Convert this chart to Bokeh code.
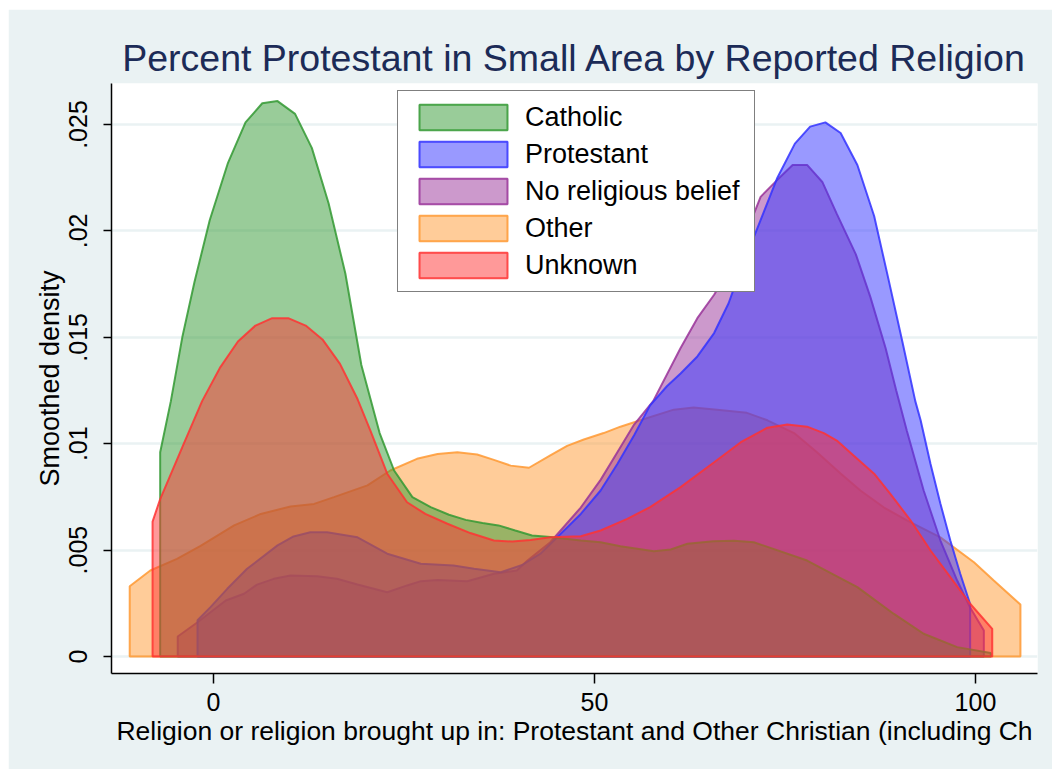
from bokeh.plotting import figure
from bokeh.models import (Legend, LegendItem, FixedTicker, CustomJSTickFormatter,
                          Spacer)
from bokeh.layouts import column, row
from bokeh.embed import file_html
from bokeh.resources import INLINE

# ---- kernel density curves (x = percent Protestant in small area) ----
catholic_x = [-7.0, -5.6, -4.1, -2.5, -0.5, 1.9, 4.2, 6.4, 8.4, 10.7, 12.9, 15.1, 17.3,
              19.4, 21.8, 23.7, 26.1, 28.5, 30.9, 33.1, 35.3, 37.4, 39.6, 41.8, 44.2,
              48.2, 50.8, 53.4, 57.8, 60.0, 62.2, 65.6, 68.3, 70.9, 77.9, 84.5, 89.3,
              93.2, 97.6, 102.0]
catholic_y = [.0096, .0120, .0150, .0176, .0205, .0232, .0251, .0260, .0261, .0255,
              .0239, .0213, .0180, .0137, .0105, .00874, .00749, .00702, .00666, .00642,
              .00627, .00616, .00592, .00569, .00562, .00545, .00537, .00518, .00495,
              .00503, .0053, .00542, .00544, .00537, .00451, .00326, .0020, .00107,
              .00044, .00016]

protestant_x = [-2.1, -0.4, 1.8, 4.4, 8.4, 10.5, 12.7, 14.9, 18.9, 22.8, 27.2, 31.5,
                34.2, 37.7, 40.5, 42.9, 45.1, 48.2, 50.8, 53.0, 55.2, 57.3, 59.5, 61.3,
                63.5, 65.7, 67.6, 68.7, 70.9, 74.0, 76.3, 78.3, 80.3, 82.3, 84.5, 86.7,
                88.6, 90.4, 92.1, 92.8, 94.1, 95.4, 96.7, 98.0, 99.3]
protestant_y = [.0017, .00232, .00318, .00412, .00522, .00564, .00584, .00584, .0056,
                .00483, .00436, .00428, .00412, .00396, .0043, .00483, .0056, .0067,
                .0078, .00905, .0104, .0118, .0127, .0133, .0141, .0152, .0166, .0177,
                .0197, .0225, .0241, .0249, .0251, .0246, .0231, .0207, .0177, .0148,
                .0120, .0111, .00905, .00718, .00545, .00389, .00247]

norel_x = [-4.7, -2.1, 1.6, 4.0, 5.7, 7.9, 10.1, 13.6, 16.2, 18.9, 22.8, 25.4, 27.2,
           29.4, 33.3, 36.8, 39.8, 41.2, 44.2, 48.2, 50.8, 53.0, 55.2, 57.7, 61.3, 63.5,
           65.7, 68.7, 71.8, 74.0, 76.0, 77.9, 79.9, 81.8, 84.3, 86.2, 88.2, 89.6, 91.0,
           93.2, 95.4, 97.6, 99.3, 101.1]
norel_y = [.00094, .00161, .00263, .00295, .00338, .00365, .00381, .00377, .00365,
           .00338, .00302, .00334, .00354, .0036, .00354, .00389, .00404, .00451, .00537,
           .0070, .0083, .0096, .0109, .0120, .0145, .0159, .0170, .0188, .0216, .0224,
           .0231, .0231, .0223, .0208, .0189, .0169, .0145, .0125, .0106, .0078, .00545,
           .00357, .0023, .00122]

other_x = [-11.0, -8.3, -4.8, -1.7, 2.7, 6.2, 10.1, 13.2, 15.8, 20.2, 23.2, 26.7, 29.4,
           32.0, 34.6, 36.8, 39.0, 41.4, 44.2, 46.4, 48.6, 51.2, 53.4, 56.0, 60.4, 63.0,
           66.1, 70.0, 72.7, 76.2, 79.2, 82.3, 84.9, 88.0, 91.0, 95.4, 99.8, 102.4, 105.9]
other_y = [.0033, .00404, .00459, .0052, .00616, .0067, .00705, .00717, .00749, .00804,
           .00874, .00929, .00952, .0096, .00949, .00924, .00897, .00887, .00945, .0099,
           .0102, .0105, .0108, .0111, .0116, .0117, .0116, .01145, .0111, .0105, .0096,
           .0086, .0078, .0070, .0064, .0056, .00443, .00357, .00244]

unknown_x = [-8.0, -7.0, -3.9, -1.5, 0.9, 3.2, 5.5, 7.7, 9.8, 12.1, 14.3, 16.6, 18.9,
             20.6, 22.8, 25.4, 27.8, 30.7, 33.7, 36.8, 39.2, 41.6, 44.2, 48.2, 50.8,
             54.3, 57.3, 61.3, 65.7, 69.2, 72.7, 75.3, 77.9, 80.1, 81.8, 84.0, 86.7,
             88.8, 91.5, 94.1, 96.7, 99.3, 102.2]
unknown_y = [.00634, .0074, .0100, .0120, .0136, .0148, .01555, .0159, .0159, .01555,
             .0149, .01375, .0121, .0106, .00859, .00725, .0067, .00624, .0058, .00545,
             .0054, .00548, .0056, .00565, .00592, .00647, .00702, .00796, .00913,
             .01007, .01075, .0109, .0108, .0105, .01015, .00945, .00859, .00765,
             .00639, .00498, .00373, .00248, .0013]

series = {
    "Catholic": (catholic_x, catholic_y, "#339933"),
    "Protestant": (protestant_x, protestant_y, "#3333ff"),
    "No religious belief": (norel_x, norel_y, "#993399"),
    "Other": (other_x, other_y, "#ff9933"),
    "Unknown": (unknown_x, unknown_y, "#ff3333"),
}
legend_order = ["Catholic", "Protestant", "No religious belief", "Other", "Unknown"]
draw_order = ["Other", "No religious belief", "Protestant", "Catholic", "Unknown"]

y_ticks = [0, 0.005, 0.01, 0.015, 0.02, 0.025]
y_tick_labels = ["0", ".005", ".01", ".015", ".02", ".025"]
x_ticks = [0, 50, 100]
x_tick_labels = ["0", "50", "100"]

title_text = "Percent Protestant in Small Area by Reported Religion"
x_label = "Religion or religion brought up in: Protestant and Other Christian (including Ch"
y_label = "Smoothed density"

FONT = "Liberation Sans"
BG = "#eaf2f3"

LABEL_JS = """
    for (let i = 0; i < tick_vals.length; i++) {
        if (Math.abs(tick_vals[i] - tick) < 1e-9) return tick_text[i];
    }
    return "";
"""

p = figure(frame_width=926, frame_height=590,
           x_range=(-13.39, 108.14), y_range=(-0.000799, 0.026927),
           output_backend="svg", toolbar_location=None,
           min_border_left=103, min_border_right=15, min_border_top=74,
           min_border_bottom=96, border_fill_color=BG, background_fill_color="white",
           outline_line_color=None, title=title_text)

p.title.align = "center"
p.title.text_font = FONT
p.title.text_font_size = "37.5px"
p.title.text_font_style = "normal"
p.title.text_color = "#1c2b57"
p.title.standoff = 10

renderers = {}
for name in draw_order:
    xs, ys, col = series[name]
    px = [xs[0]] + list(xs) + [xs[-1]]
    py = [0.0] + list(ys) + [0.0]
    renderers[name] = p.patch(px, py, fill_color=col, fill_alpha=0.5,
                              line_color=col, line_alpha=0.85, line_width=2)

# axes
p.xgrid.visible = False
p.ygrid.ticker = FixedTicker(ticks=y_ticks)
p.ygrid.grid_line_color = BG
p.ygrid.grid_line_width = 2.5

for ax in (p.xaxis[0], p.yaxis[0]):
    ax.axis_line_color = "black"
    ax.axis_line_width = 1.5
    ax.major_tick_line_color = "black"
    ax.major_tick_line_width = 1.5
    ax.major_tick_in = 0
    ax.minor_tick_line_color = None
    ax.major_label_text_font = FONT
    ax.major_label_text_font_size = "25px"
    ax.major_label_text_color = "black"
    ax.axis_label_text_font = FONT
    ax.axis_label_text_font_size = "27px"
    ax.axis_label_text_font_style = "normal"
    ax.axis_label_text_color = "black"

p.xaxis.ticker = FixedTicker(ticks=x_ticks)
p.xaxis.major_tick_out = 10
p.xaxis.major_label_standoff = 9
p.xaxis.axis_label = x_label
p.xaxis.axis_label_text_font_size = "26.5px"
p.xaxis.axis_label_standoff = 2
p.xaxis.formatter = CustomJSTickFormatter(
    args=dict(tick_vals=x_ticks, tick_text=x_tick_labels), code=LABEL_JS)

p.yaxis.ticker = FixedTicker(ticks=y_ticks)
p.yaxis.major_tick_out = 8
p.yaxis.major_label_orientation = "vertical"
p.yaxis.major_label_standoff = 16
p.yaxis.axis_label = y_label
p.yaxis.axis_label_standoff = 2
p.yaxis.formatter = CustomJSTickFormatter(
    args=dict(tick_vals=y_ticks, tick_text=y_tick_labels), code=LABEL_JS)

legend = Legend(items=[LegendItem(label=n, renderers=[renderers[n]]) for n in legend_order],
                location=(286, 381), orientation="vertical",
                border_line_color="black", border_line_width=1.5,
                background_fill_color="white", background_fill_alpha=1.0,
                padding=10, spacing=5, margin=0,
                glyph_width=110, glyph_height=32, label_height=32, label_width=219,
                label_standoff=7,
                label_text_font=FONT, label_text_font_size="27px", label_text_color="black")
p.add_layout(legend)

page = column(Spacer(width=1052, height=9),
              row(Spacer(width=8, height=760), p))

open("out.html", "w").write(file_html(page, INLINE))
